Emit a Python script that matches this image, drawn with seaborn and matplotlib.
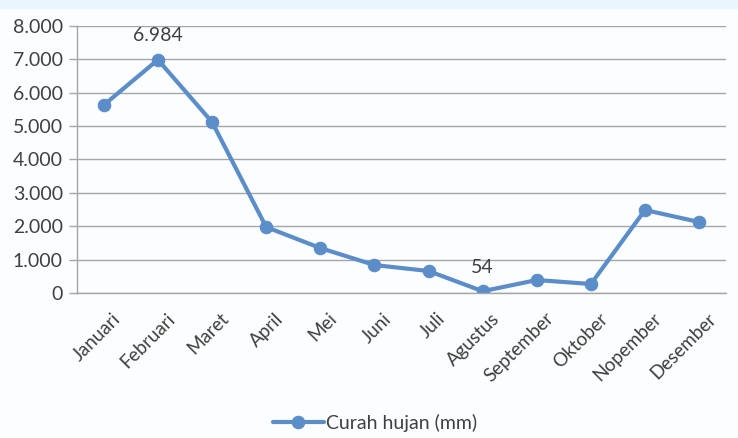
import matplotlib
matplotlib.use("Agg")
import matplotlib.pyplot as plt
import matplotlib.ticker as mticker
import matplotlib.transforms as mtransforms
import seaborn as sns
import pandas as pd

# --- Data ---
months = ["Januari", "Februari", "Maret", "April", "Mei", "Juni", "Juli",
          "Agustus", "September", "Oktober", "Nopember", "Desember"]
curah_hujan = [5630, 6984, 5120, 1976, 1347, 838, 659, 54, 389, 270, 2485, 2126]
series_name = "Curah hujan (mm)"
labelled_months = ["Februari", "Agustus"]

LINE_COLOR = "#5B8DC8"
GRID_COLOR = "#A6A6A6"
TEXT_COLOR = "#404040"

df = pd.DataFrame({"bulan": months, "curah": curah_hujan})

sns.set_theme(style="white")
plt.rcParams["font.family"] = ["Lato", "DejaVu Sans"]

fig = plt.figure(figsize=(7.38, 4.38), dpi=100, facecolor="#FBFDFE")
ax = fig.add_axes([0.104, 0.331, 0.880, 0.610])
ax.set_facecolor("#FBFDFE")

# light strip along the top edge
fig.patches.append(plt.Rectangle((0, 0.982), 1, 0.018, transform=fig.transFigure,
                                 color="#E9F6FD", zorder=0))

sns.lineplot(data=df, x="bulan", y="curah", ax=ax, color=LINE_COLOR, linewidth=3,
             marker="o", markersize=9, markeredgecolor=LINE_COLOR,
             label=series_name, sort=False)

for m in labelled_months:
    i = months.index(m)
    ax.annotate(f"{curah_hujan[i]:,}".replace(",", "."), (i, curah_hujan[i]),
                xytext=(0, 11), textcoords="offset points", ha="center", va="bottom",
                fontsize=14, color=TEXT_COLOR)

ax.set_ylim(0, 8000)
ax.set_xlim(-0.5, len(months) - 0.5)
ax.yaxis.set_major_locator(mticker.MultipleLocator(1000))
ax.yaxis.set_major_formatter(mticker.FuncFormatter(lambda v, p: f"{int(v):,}".replace(",", ".")))
ax.grid(axis="y", color=GRID_COLOR, linewidth=1)
ax.set_axisbelow(True)

ax.set_xticks(range(len(months)))
ax.set_xticklabels(months, rotation=45, ha="right", rotation_mode="anchor")
ax.set_xticks([i - 0.5 for i in range(len(months) + 1)], minor=True)
ax.tick_params(axis="x", which="major", length=0, pad=10, labelsize=13.5, labelcolor=TEXT_COLOR)
ax.tick_params(axis="x", which="minor", length=6, width=1, color=GRID_COLOR, direction="out")
ax.tick_params(axis="y", length=6, width=1, color=GRID_COLOR, direction="out",
               labelsize=14, labelcolor=TEXT_COLOR, left=True, pad=4)

# nudge the rotated month labels a bit to the right, like the original
shift = mtransforms.ScaledTranslation(8 / 100, -3 / 100, fig.dpi_scale_trans)
for lbl in ax.get_xticklabels():
    lbl.set_transform(lbl.get_transform() + shift)

for side in ["top", "right"]:
    ax.spines[side].set_visible(False)
for side in ["left", "bottom"]:
    ax.spines[side].set_color(GRID_COLOR)
    ax.spines[side].set_linewidth(1)

ax.set_xlabel("")
ax.set_ylabel("")

leg = ax.legend(loc="center", frameon=False, fontsize=14, handlelength=2.6,
                handletextpad=0.1, borderpad=0)
leg.set_bbox_to_anchor((375 / 738, 1 - 423 / 438), transform=fig.transFigure)
for t in leg.get_texts():
    t.set_color(TEXT_COLOR)

fig.savefig("out.png", dpi=100, facecolor=fig.get_facecolor())
